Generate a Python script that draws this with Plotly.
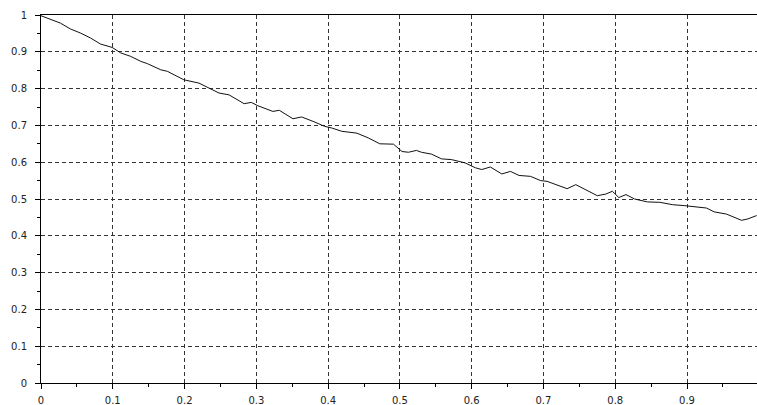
import plotly.graph_objects as go

x_vals = [0.0, 0.013, 0.027, 0.041, 0.055, 0.069, 0.083, 0.099, 0.111, 0.125, 0.139, 0.148, 0.167, 0.176,
          0.199, 0.220, 0.230, 0.248, 0.262, 0.283, 0.293, 0.302, 0.323, 0.332, 0.351, 0.363, 0.379, 0.395,
          0.405, 0.419, 0.440, 0.456, 0.472, 0.491, 0.503, 0.512, 0.523, 0.530, 0.544, 0.558, 0.572, 0.591,
          0.605, 0.614, 0.626, 0.642, 0.654, 0.666, 0.682, 0.696, 0.705, 0.719, 0.733, 0.745, 0.761, 0.775,
          0.787, 0.796, 0.805, 0.815, 0.827, 0.845, 0.862, 0.880, 0.896, 0.915, 0.927, 0.938, 0.955, 0.976,
          0.985, 0.997]
y_vals = [0.998, 0.989, 0.978, 0.962, 0.951, 0.9375, 0.921, 0.912, 0.897, 0.8875, 0.874, 0.868, 0.851, 0.847,
          0.824, 0.815, 0.806, 0.788, 0.783, 0.759, 0.7625, 0.7535, 0.738, 0.741, 0.718, 0.723, 0.711, 0.6975,
          0.693, 0.684, 0.679, 0.666, 0.650, 0.649, 0.629, 0.627, 0.632, 0.627, 0.622, 0.609, 0.607, 0.598,
          0.585, 0.580, 0.587, 0.568, 0.575, 0.564, 0.5615, 0.550, 0.548, 0.537, 0.528, 0.539, 0.5225, 0.509,
          0.5135, 0.521, 0.504, 0.512, 0.500, 0.492, 0.491, 0.4845, 0.482, 0.478, 0.4755, 0.465, 0.459, 0.442,
          0.446, 0.455]

fig = go.Figure()
fig.add_trace(go.Scatter(x=x_vals, y=y_vals, mode="lines",
                         line=dict(color="#111111", width=1), hoverinfo="skip"))

font = dict(family="DejaVu Sans", size=10, color="#222222")
fig.update_layout(
    width=757, height=405,
    margin=dict(l=41, r=0, t=15, b=22, pad=0),
    paper_bgcolor="white", plot_bgcolor="white",
    showlegend=False,
    font=font,
)
fig.update_xaxes(
    range=[0, 0.9975], dtick=0.1, tick0=0, automargin=False,
    showline=True, linecolor="black", linewidth=1, mirror=True,
    ticks="outside", ticklen=5, tickcolor="black", tickwidth=1,
    ticklabelstandoff=3,
    showgrid=True, gridcolor="#333333", gridwidth=1, griddash="4px,3px",
    zeroline=False, tickfont=font,
    minor=dict(dtick=0.05, tick0=0, ticks="outside", ticklen=3, tickcolor="black", showgrid=False),
)
fig.update_yaxes(
    range=[0, 1], dtick=0.1, tick0=0, automargin=False,
    showline=True, linecolor="black", linewidth=1, mirror=False,
    ticks="outside", ticklen=5, tickcolor="black", tickwidth=1,
    ticklabelstandoff=6,
    showgrid=True, gridcolor="#333333", gridwidth=1, griddash="4px,3px",
    zeroline=False, tickfont=font,
    minor=dict(dtick=0.05, tick0=0, ticks="outside", ticklen=3, tickcolor="black", showgrid=False),
)

fig.write_html("out.html", config={"displayModeBar": False},
               post_script="document.body.style.margin='0';document.body.style.padding='0';document.body.style.overflow='hidden';")
